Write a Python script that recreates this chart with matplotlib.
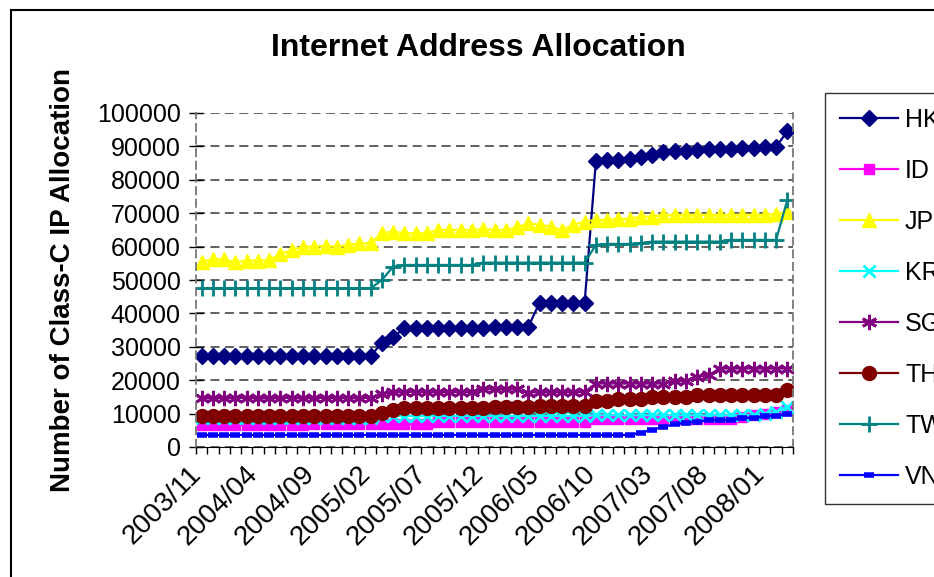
import matplotlib
matplotlib.use("Agg")
import matplotlib.pyplot as plt
from matplotlib.patches import Rectangle
from matplotlib.transforms import ScaledTranslation

plt.rcParams['font.family'] = ['Liberation Sans', 'DejaVu Sans']

# monthly categories 2003/11 .. 2008/03
months = []
y, m = 2003, 11
for _ in range(53):
    months.append(f"{y}/{m:02d}")
    m += 1
    if m > 12:
        m = 1
        y += 1

hk = [27200] * 16 + [31200, 33000] + [35500] * 8 + [36000] * 4 + [43200] * 5 + \
     [85500, 85800, 86000, 86200, 86800, 87500, 88200, 88500, 88600, 88900,
      89300, 89300, 89300, 89400, 89400, 89800, 89900, 94500]
id_ = [6600] * 10 + [7000] * 11 + [7500] * 14 + [8500] * 13 + [9000, 9500, 10000, 10500, 11000]
jp = [55500, 56200, 56200, 55300, 55800, 55800, 56000, 57800, 59000, 60000,
      60000, 60200, 60000, 60500, 61000, 61000, 64000, 64500, 64000, 64000,
      64000, 65000, 65000, 65000, 65000, 65200, 65000, 65000, 65800, 67000,
      66500, 66000, 65000, 66500, 67500, 68000, 68000, 68300, 68300, 69000,
      69000, 69500, 69500, 69500, 69500, 69500, 69500, 69500, 69500, 69500,
      69500, 69800, 70500]
kr = [8800] * 16 + [9300] * 19 + [9500] * 15 + [10000, 10500, 12000]
sg = [14700] * 16 + [15800, 16500] + [16500] * 7 + [17300] * 4 + [16200] + [16500] * 5 + \
     [19000] * 7 + [19800] * 2 + [21000, 21500] + [23500] * 7
th = [9300] * 16 + [10300, 11200] + [11600] * 8 + [12000] * 4 + [12300] * 5 + \
     [13700] * 2 + [14300] * 3 + [15000] * 4 + [15600] * 8 + [17000]
tw = [47500] * 16 + [50000, 54000] + [54500] * 7 + [55200] * 10 + [60500] + [60800] * 3 + \
     [61000] + [61500] * 7 + [62000] * 5 + [74000]
vn = [3600] * 39 + [4300, 5200, 6000, 6800, 7300, 7600, 8000, 8000, 8000, 8700, 8700, 9200, 9300, 10000]

series = [
    ("HK", hk, "#000080", "D", 8.5),
    ("ID", id_, "#FF00FF", "s", 7.5),
    ("JP", jp, "#FFFF00", "^", 10),
    ("KR", kr, "#00FFFF", "x", 9),
    ("SG", sg, "#800080", (6, 2, 0), 11),
    ("TH", th, "#800000", "o", 10),
    ("TW", tw, "#008080", "+", 12),
    ("VN", vn, "#0000FF", "_", 7),
]

fig = plt.figure(figsize=(9.34, 5.77), dpi=100)
ax = fig.add_axes([196 / 934, 1 - 447 / 577, 597 / 934, 334 / 577])

x = list(range(len(months)))
for name, vals, col, mk, ms in series:
    kw = dict(color=col, lw=1.6, marker=mk, markersize=ms, label=name)
    if mk in ("x", "+") or isinstance(mk, tuple):
        kw["markeredgewidth"] = 2
    elif mk == "_":
        kw["markeredgewidth"] = 4
    else:
        kw["markeredgecolor"] = col
    ax.plot(x, vals, **kw)

ax.set_xlim(-0.5, len(months) - 0.5)
ax.set_ylim(0, 100000)
ax.set_yticks(range(0, 100001, 10000))
ax.set_yticklabels([str(v) for v in range(0, 100001, 10000)], fontsize=18)
ax.yaxis.grid(True, color='#555555', linestyle=(0, (5, 3)), lw=1.3)
ax.set_axisbelow(True)

ax.set_xticks(range(0, len(months), 5))
ax.set_xticklabels(months[::5], rotation=45, ha='right', rotation_mode='anchor', fontsize=20)
ax.set_xticks([i - 0.5 for i in range(len(months) + 1)], minor=True)
ax.tick_params(axis='x', which='major', length=0, pad=10)
ax.tick_params(axis='x', which='minor', length=5, direction='out', width=1)
ax.tick_params(axis='y', direction='inout', length=10, width=1, pad=6)

# nudge the slanted month labels left, as in the original
shift = ScaledTranslation(-13 / 100, 0, fig.dpi_scale_trans)
for t in ax.xaxis.get_major_ticks():
    t.label1.set_transform(t.label1.get_transform() + shift)

for s in ('left', 'right', 'top'):
    ax.spines[s].set_linestyle((0, (4, 3)))
    ax.spines[s].set_color('#777777')
    ax.spines[s].set_linewidth(1.3)
ax.spines['top'].set_visible(False)
ax.spines['bottom'].set_color('black')

ax.set_ylabel("Number of Class-C IP Allocation", fontsize=20, fontweight='bold', labelpad=15)
fig.text(478 / 934, 1 - 48 / 577, "Internet Address Allocation", fontsize=23,
         fontweight='bold', ha='center', va='center')

fig.legend(loc='upper left', bbox_to_anchor=(825 / 934, 1 - 93 / 577), fontsize=18,
           frameon=True, fancybox=False, edgecolor='#333333', framealpha=1,
           labelspacing=1.08, handlelength=2.3, handletextpad=0.3, borderpad=0.6,
           borderaxespad=0)

fig.patches.append(Rectangle((11 / 934, -0.1), 1.2, 1.1 - 10 / 577, transform=fig.transFigure,
                             fill=False, edgecolor='black', lw=1.5))

fig.savefig("out.png", dpi=100)
